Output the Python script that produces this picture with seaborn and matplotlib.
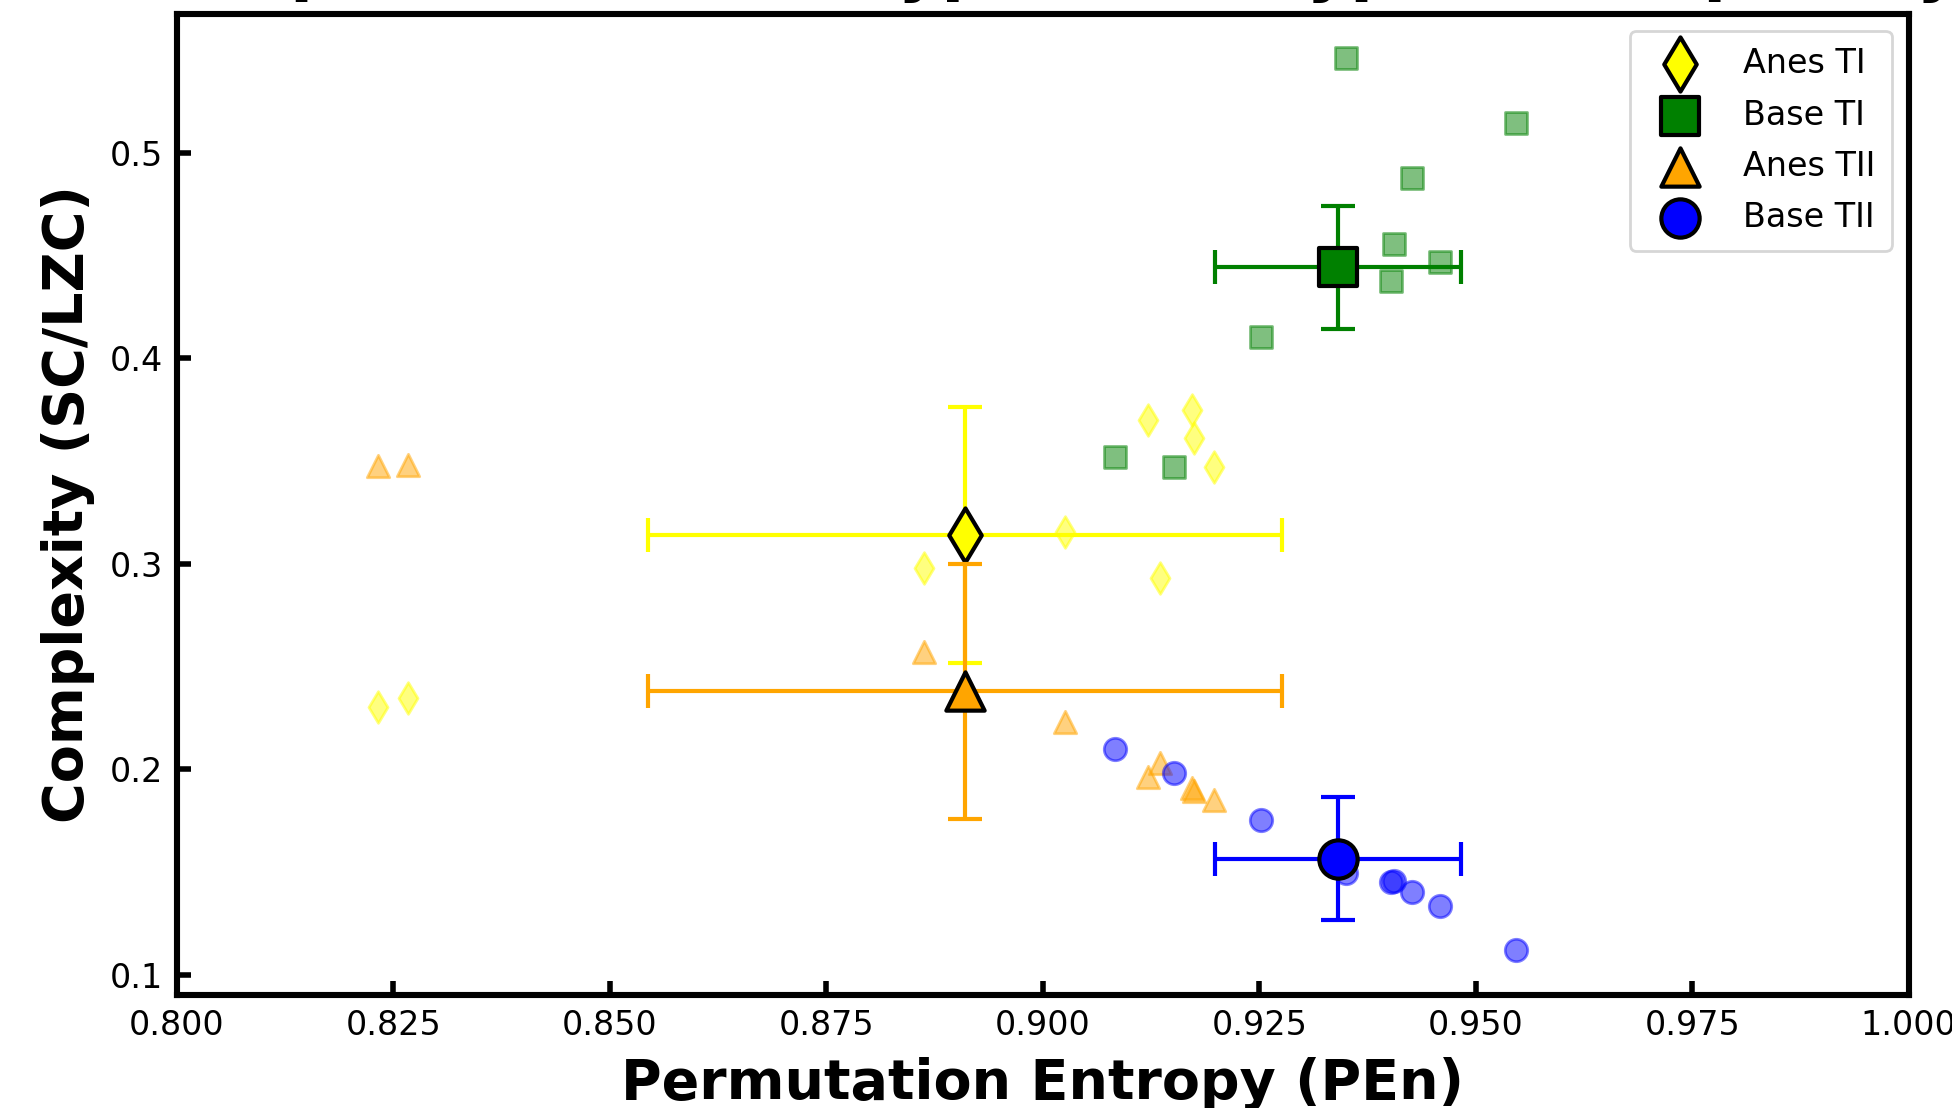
import numpy as np
import matplotlib
matplotlib.use("Agg")
import matplotlib.pyplot as plt
import seaborn as sns

# PEn de cada sujeto (mismo valor para TI y TII en cada condicion)
anes_pen = [0.8232, 0.8267, 0.8863, 0.9026, 0.9122, 0.9135, 0.9172, 0.9174, 0.9198]
anes_ti = [0.2301, 0.2346, 0.2979, 0.3157, 0.3701, 0.2933, 0.3750, 0.3612, 0.3474]
anes_tii = [0.3477, 0.3482, 0.2570, 0.2232, 0.1961, 0.2030, 0.1910, 0.1895, 0.1848]

base_pen = [0.9083, 0.9152, 0.9252, 0.9350, 0.9402, 0.9405, 0.9426, 0.9459, 0.9546]
base_ti = [0.3522, 0.3474, 0.4107, 0.5462, 0.4378, 0.4558, 0.4878, 0.4469, 0.5145]
base_tii = [0.2100, 0.1984, 0.1754, 0.1494, 0.1450, 0.1455, 0.1402, 0.1333, 0.1118]

# medias y barras de error de cada grupo
grupos = ["Anes TI", "Base TI", "Anes TII", "Base TII"]
media_pen = [0.8910, 0.9341, 0.8910, 0.9341]
media_cx = [0.3141, 0.4444, 0.2380, 0.1564]
err_pen = [0.0366, 0.0142, 0.0366, 0.0142]
err_cx = [0.0624, 0.0300, 0.0621, 0.0300]

colores = ["yellow", "green", "orange", "blue"]
marcadores = ["d", "s", "^", "o"]
puntos = [(anes_pen, anes_ti), (base_pen, base_ti), (anes_pen, anes_tii), (base_pen, base_tii)]

sns.set_style("white")
plt.rcParams["font.family"] = ["DejaVu Sans"]
plt.rcParams["text.color"] = "black"
plt.rcParams["axes.labelcolor"] = "black"
plt.rcParams["xtick.color"] = "black"
plt.rcParams["ytick.color"] = "black"

fig, ax = plt.subplots(figsize=(9.76, 5.54), dpi=200)
fig.subplots_adjust(left=0.0907, right=0.9778, bottom=0.1022, top=0.9875)

for i, g in enumerate(grupos):
    px, py = puntos[i]
    sns.scatterplot(x=px, y=py, marker=marcadores[i], color=colores[i], s=65,
                    alpha=0.5, edgecolor=colores[i], linewidth=1, ax=ax,
                    legend=False, zorder=2 + i * 3)
    ax.errorbar(media_pen[i], media_cx[i], xerr=err_pen[i], yerr=err_cx[i],
                fmt="none", ecolor=colores[i], elinewidth=1.5, capsize=6,
                capthick=1.5, zorder=3 + i * 3)
    sns.scatterplot(x=[media_pen[i]], y=[media_cx[i]], marker=marcadores[i],
                    color=colores[i], s=190, edgecolor="black", linewidth=1.5,
                    ax=ax, label=g, zorder=4 + i * 3)

ax.set_xlim(0.8, 1.0)
ax.set_ylim(0.0902, 0.5678)
ax.set_xticks(np.arange(0.8, 1.0001, 0.025))
ax.set_yticks([0.1, 0.2, 0.3, 0.4, 0.5])

# el titulo queda cortado arriba, como en la figura original
ax.set_title("Comparison across Type I and Type II Complexity",
             fontsize=24, fontweight="bold", pad=9.3)
ax.set_xlabel("Permutation Entropy (PEn)", fontsize=20, fontweight="bold", labelpad=5.5)
ax.set_ylabel("Complexity (SC/LZC)", fontsize=20, fontweight="bold", labelpad=5.5)

ax.tick_params(direction="in", length=5, width=2, labelsize=12, pad=5,
               top=False, right=False, bottom=True, left=True)
for sp in ax.spines.values():
    sp.set_linewidth(2.2)
    sp.set_color("black")

ax.legend(loc="upper right", fontsize=12, frameon=True, edgecolor="0.8",
          borderpad=0.5, labelspacing=0.55, handletextpad=0.9)

plt.savefig("out.png", dpi=200)
